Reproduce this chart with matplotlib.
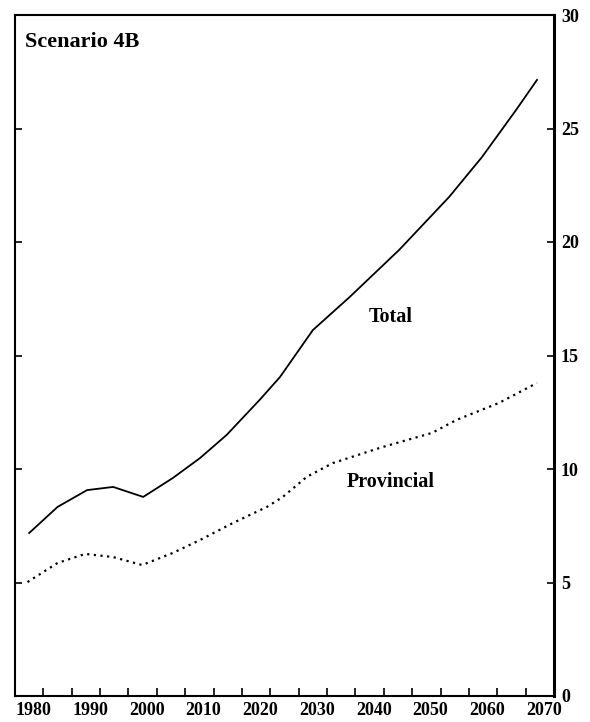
import numpy as np
import matplotlib.pyplot as plt
from matplotlib.transforms import ScaledTranslation

total_years = [1977.5, 1982.5, 1987.7, 1992.3, 1997.6, 2002.8, 2007.6, 2012.3, 2018.1,
               2021.7, 2027.5, 2034.0, 2042.7, 2051.5, 2057.3, 2063.3, 2067.0]
total_vals = [7.18, 8.33, 9.07, 9.21, 8.77, 9.60, 10.48, 11.50, 13.04,
              14.05, 16.12, 17.58, 19.65, 21.98, 23.74, 25.81, 27.14]

prov_years = [1977.2, 1982.5, 1987.4, 1992.3, 1997.4, 2002.8, 2007.6, 2013.4, 2019.4,
              2022.2, 2026.4, 2031.0, 2039.8, 2048.5, 2052.8, 2060.3, 2067.0]
prov_vals = [5.02, 5.86, 6.26, 6.12, 5.77, 6.30, 6.87, 7.62, 8.33,
             8.77, 9.65, 10.26, 10.97, 11.59, 12.16, 12.91, 13.79]

x_ticks = list(range(1980, 2071, 5))
x_labels = [str(y) if y % 10 == 0 else '' for y in x_ticks]
y_ticks = [0, 5, 10, 15, 20, 25, 30]

plt.rcParams['font.family'] = ['Liberation Serif', 'DejaVu Serif']

fig = plt.figure(figsize=(5.9, 7.22), dpi=100)
ax = fig.add_axes([15/590, 1 - 696/722, 539/590, 681/722])

ax.plot(total_years, total_vals, color='black', lw=1.3)
ax.plot(prov_years, prov_vals, color='black', lw=1.6, linestyle=(0, (1, 2)))

ax.set_xlim(1975, 2070)
ax.set_ylim(0, 30)

ax.set_xticks(x_ticks)
ax.set_xticklabels(x_labels, fontsize=13, fontweight='bold')
ax.set_yticks(y_ticks)
ax.set_yticklabels([str(v) for v in y_ticks], fontsize=13, fontweight='bold')

ax.tick_params(axis='x', direction='in', length=6, width=1.2, pad=4)
ax.tick_params(axis='y', direction='in', length=5, width=1.2, pad=5,
               left=True, right=True, labelleft=False, labelright=True)

# labels in the original sit a little left of their ticks
shift = ScaledTranslation(-10/100, 0, fig.dpi_scale_trans)
for lab in ax.get_xticklabels():
    lab.set_transform(lab.get_transform() + shift)

for s in ax.spines.values():
    s.set_linewidth(1.5)
ax.spines['right'].set_linewidth(2.2)

ax.text(0.018, 0.96, 'Scenario 4B', transform=ax.transAxes, fontsize=16,
        fontweight='bold', va='center', ha='left')
ax.text(2041.2, (696 - 317) / 22.7, 'Total', fontsize=14.5, fontweight='bold',
        ha='center', va='center')
ax.text(2041.2, (696 - 482) / 22.7, 'Provincial', fontsize=14.5, fontweight='bold',
        ha='center', va='center')

plt.savefig('out.png', dpi=100)
